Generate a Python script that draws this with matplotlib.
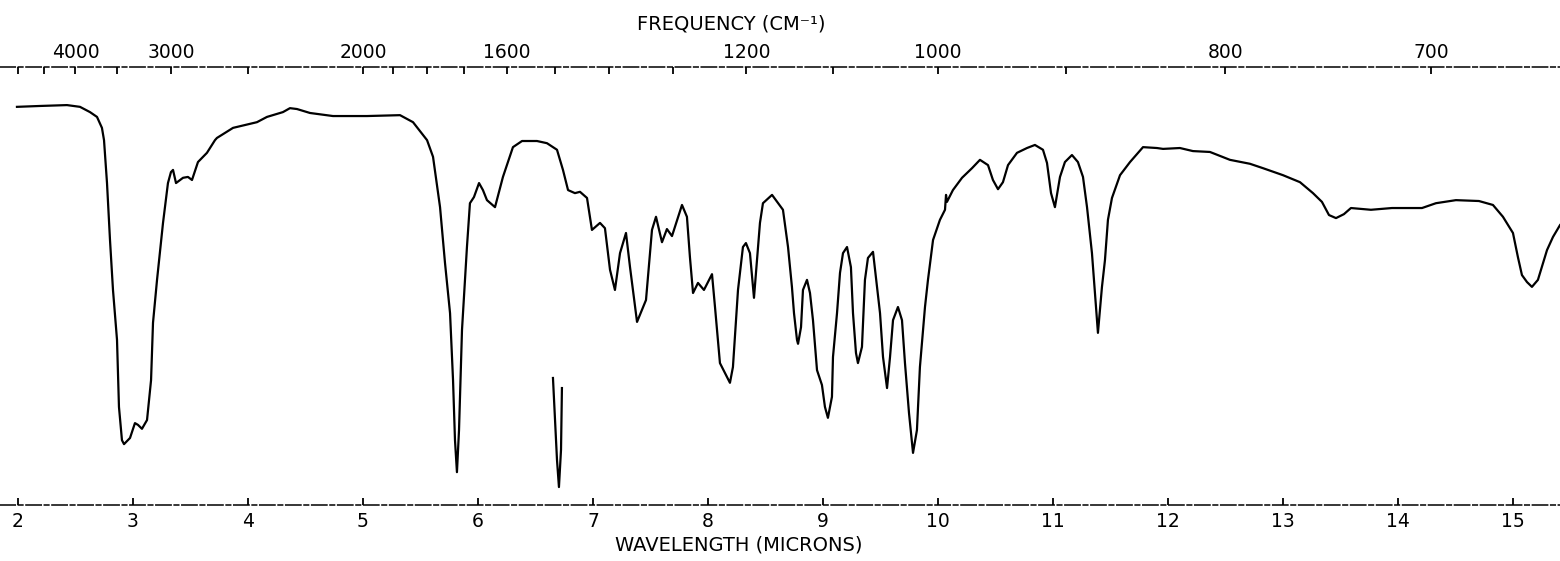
import matplotlib
matplotlib.use('Agg')
import matplotlib.pyplot as plt

# wavelength (microns) and transmittance (%)
wavelength = [
    1.991, 2.191, 2.426, 2.539, 2.626, 2.687, 2.730, 2.748, 2.774, 2.800,
    2.826, 2.861, 2.878, 2.904, 2.922, 2.948, 2.974, 3.017, 3.043, 3.078,
    3.122, 3.157, 3.174, 3.209, 3.261, 3.304, 3.330, 3.348, 3.374, 3.435,
    3.478, 3.513, 3.565, 3.643, 3.713, 3.730, 3.870, 4.078, 4.165, 4.304,
    4.365, 4.426, 4.539, 4.739, 5.035, 5.296, 5.322, 5.435, 5.557, 5.609,
    5.670, 5.713, 5.757, 5.783, 5.800, 5.817, 5.835, 5.861, 5.904, 5.930,
    5.965, 6.009, 6.043, 6.078, 6.148, 6.217, 6.304, 6.383, 6.513, 6.600,
    6.687, 6.739, 6.783, 6.843, 6.887, 6.948, 6.991, 7.061, 7.104, 7.148,
    7.191, 7.235, 7.287, 7.322, 7.383, 7.461, 7.513, 7.548, 7.600, 7.643,
    7.687, 7.774, 7.817, 7.843, 7.870, 7.913, 7.965, 8.035, 8.061, 8.104,
    8.148, 8.191, 8.217, 8.261, 8.304, 8.330, 8.365, 8.400, 8.452, 8.478,
    8.557, 8.652, 8.696, 8.730, 8.748, 8.774, 8.783, 8.809, 8.826, 8.861,
    8.887, 8.913, 8.948, 8.991, 9.017, 9.043, 9.078, 9.087, 9.122, 9.148,
    9.174, 9.209, 9.243, 9.261, 9.287, 9.304, 9.339, 9.365, 9.391, 9.435,
    9.470, 9.496, 9.522, 9.557, 9.583, 9.609, 9.652, 9.687, 9.713, 9.748,
    9.783, 9.817, 9.843, 9.887, 9.913, 9.957, 10.017, 10.061, 10.070, 10.078,
    10.130, 10.209, 10.296, 10.365, 10.435, 10.478, 10.522, 10.565, 10.609, 10.687,
    10.774, 10.843, 10.913, 10.948, 10.983, 11.017, 11.061, 11.104, 11.165, 11.217,
    11.261, 11.296, 11.339, 11.365, 11.391, 11.426, 11.452, 11.478, 11.513, 11.583,
    11.670, 11.783, 11.904, 11.957, 12.104, 12.217, 12.365, 12.539, 12.713, 12.826,
    13.000, 13.148, 13.261, 13.339, 13.400, 13.461, 13.530, 13.591, 13.765, 13.948,
    14.209, 14.330, 14.504, 14.704, 14.826, 14.913, 15.000, 15.043, 15.078, 15.122,
    15.165, 15.217, 15.296, 15.348, 15.409,
]
transmittance = [
    90.9, 91.1, 91.3, 90.9, 89.7, 88.6, 86.1, 83.3, 73.5, 60.5,
    49.1, 37.7, 22.4, 14.8, 13.9, 14.6, 15.3, 18.7, 18.3, 17.4,
    19.4, 28.5, 41.6, 51.4, 64.4, 73.5, 76.0, 76.5, 73.5, 74.7,
    74.9, 74.2, 78.3, 80.4, 83.3, 83.8, 86.1, 87.4, 88.6, 89.7,
    90.6, 90.4, 89.5, 88.8, 88.8, 89.0, 89.0, 87.4, 83.3, 79.5,
    68.0, 55.3, 43.8, 28.5, 14.8, 7.5, 17.1, 40.0, 58.9, 68.9,
    70.3, 73.5, 71.9, 69.6, 68.0, 74.9, 81.7, 83.1, 83.1, 82.6,
    81.1, 76.5, 71.9, 71.2, 71.5, 70.1, 62.8, 64.4, 63.2, 53.7,
    49.1, 57.5, 62.1, 54.3, 41.8, 46.8, 62.8, 65.8, 60.0, 63.0,
    61.4, 68.5, 65.8, 56.6, 48.4, 50.7, 49.1, 52.7, 45.2, 32.4,
    30.1, 27.9, 31.5, 49.1, 58.9, 59.8, 57.5, 47.3, 64.4, 68.9,
    70.8, 67.4, 58.9, 49.8, 43.8, 37.7, 36.8, 40.6, 49.1, 51.4,
    48.4, 42.2, 30.8, 27.4, 22.4, 19.9, 24.7, 33.8, 43.8, 53.0,
    57.5, 58.9, 54.3, 43.8, 34.7, 32.4, 36.1, 51.4, 56.4, 57.8,
    49.8, 43.8, 33.8, 26.7, 33.8, 42.2, 45.2, 42.2, 32.4, 21.0,
    11.9, 17.1, 31.5, 45.2, 51.4, 60.5, 65.1, 67.4, 70.8, 69.2,
    71.9, 74.7, 76.9, 78.8, 77.6, 74.2, 72.1, 73.7, 77.6, 80.4,
    81.5, 82.2, 81.1, 78.1, 71.2, 68.0, 74.9, 78.3, 79.9, 78.3,
    74.9, 68.0, 57.5, 48.4, 39.3, 49.8, 55.9, 65.1, 70.1, 75.3,
    78.3, 81.7, 81.5, 81.3, 81.5, 80.8, 80.6, 78.8, 77.9, 76.9,
    75.3, 73.7, 71.2, 69.2, 66.2, 65.5, 66.4, 67.8, 67.4, 67.8,
    67.8, 68.9, 69.6, 69.4, 68.5, 65.8, 62.1, 56.6, 52.5, 50.9,
    49.8, 51.4, 58.2, 61.2, 63.9,
]

# separately drawn band near 6.7 microns
band_wavelength = [6.652, 6.687, 6.704, 6.722, 6.730]
band_transmittance = [29.0, 10.3, 4.1, 12.6, 26.7]

wavelength_ticks = list(range(2, 16))
freq_ticks = [5000, 4500, 4000, 3500, 3000, 2500, 2000, 1900, 1800, 1700,
              1600, 1500, 1400, 1300, 1200, 1100, 1000, 900, 800, 700]
freq_labeled = [4000, 3000, 2000, 1600, 1200, 1000, 800, 700]

plt.rcParams['font.family'] = ['DejaVu Sans']

fig = plt.figure(figsize=(15.6, 5.61), dpi=100)
ax = fig.add_axes([0.0, 0.0998, 1.0, 0.7808])

ax.plot(wavelength, transmittance, color='black', lw=1.6, solid_joinstyle='round')
ax.plot(band_wavelength, band_transmittance, color='black', lw=1.6, solid_joinstyle='round')

ax.set_xlim(1.8435, 15.409)
ax.set_ylim(0, 100)
ax.set_yticks([])

for side in ['left', 'right']:
    ax.spines[side].set_visible(False)
for side in ['top', 'bottom']:
    ax.spines[side].set_linewidth(1.1)
    ax.spines[side].set_linestyle((0, (10, 2, 3, 2)))

ax.set_xticks(wavelength_ticks)
ax.set_xticklabels([str(t) for t in wavelength_ticks])
ax.tick_params(axis='x', direction='in', length=5, width=1.3, pad=5, labelsize=13.5)

# frequency scale on top
sec = ax.secondary_xaxis('top', functions=(lambda x: 1e4 / x, lambda x: 1e4 / x))
sec.set_xticks(freq_ticks)
sec.set_xticklabels([str(f) if f in freq_labeled else '' for f in freq_ticks])
sec.tick_params(axis='x', direction='in', length=5, width=1.3, pad=3.5, labelsize=13.5)
sec.spines['top'].set_visible(False)

fig.text(731 / 1560, 1 - 24 / 561, 'FREQUENCY (CM⁻¹)', ha='center', va='center', fontsize=14)
fig.text(739 / 1560, 1 - 545 / 561, 'WAVELENGTH (MICRONS)', ha='center', va='center', fontsize=14)

fig.savefig('out.png', dpi=100)
